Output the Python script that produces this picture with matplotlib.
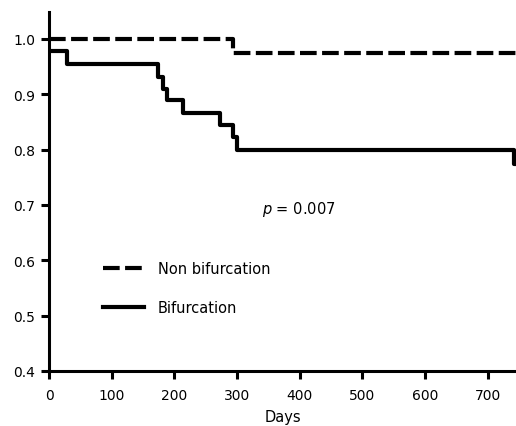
import numpy as np
import matplotlib
matplotlib.use('Agg')
import matplotlib.pyplot as plt

# Kaplan-Meier step data (days, survival)
non_bif_days = [0, 294, 745]
non_bif_surv = [1.0, 0.975, 0.975]

bif_days = [0, 28, 174, 182, 188, 213, 272, 294, 300, 742, 745]
bif_surv = [0.978, 0.955, 0.932, 0.91, 0.89, 0.867, 0.845, 0.822, 0.80, 0.774, 0.774]

x_ticks = [0, 100, 200, 300, 400, 500, 600, 700]
y_ticks = [0.4, 0.5, 0.6, 0.7, 0.8, 0.9, 1.0]

fig = plt.figure(figsize=(5.16, 4.27), dpi=100)
ax = fig.add_axes([0.095, 0.129, 0.905, 0.841])

ax.step(non_bif_days, non_bif_surv, where='post', color='black', lw=3,
        dashes=(4.0, 1.3), label='Non bifurcation', dash_capstyle='butt')
ax.step(bif_days, bif_surv, where='post', color='black', lw=3,
        label='Bifurcation')

ax.set_xlim(0, 745)
ax.set_ylim(0.4, 1.049)
ax.set_xticks(x_ticks)
ax.set_yticks(y_ticks)
ax.set_yticklabels(['{:.1f}'.format(v) for v in y_ticks])

for s in ['top', 'right']:
    ax.spines[s].set_visible(False)
for s in ['left', 'bottom']:
    ax.spines[s].set_linewidth(2.2)
ax.tick_params(width=2.2, length=6, labelsize=10, direction='out')
ax.tick_params(axis='x', pad=6)
ax.tick_params(axis='y', pad=4)

ax.set_xlabel('Days', fontsize=10.5, labelpad=5)

ax.text(340, 0.693, r'$p$ = 0.007', fontsize=10.5, ha='left', va='center')

ax.legend(loc='center left', bbox_to_anchor=(0.116, 0.23), frameon=False,
          fontsize=10.5, handlelength=2.8, labelspacing=1.65, handletextpad=0.95,
          borderpad=0, borderaxespad=0)

fig.savefig('out.png', dpi=100)
